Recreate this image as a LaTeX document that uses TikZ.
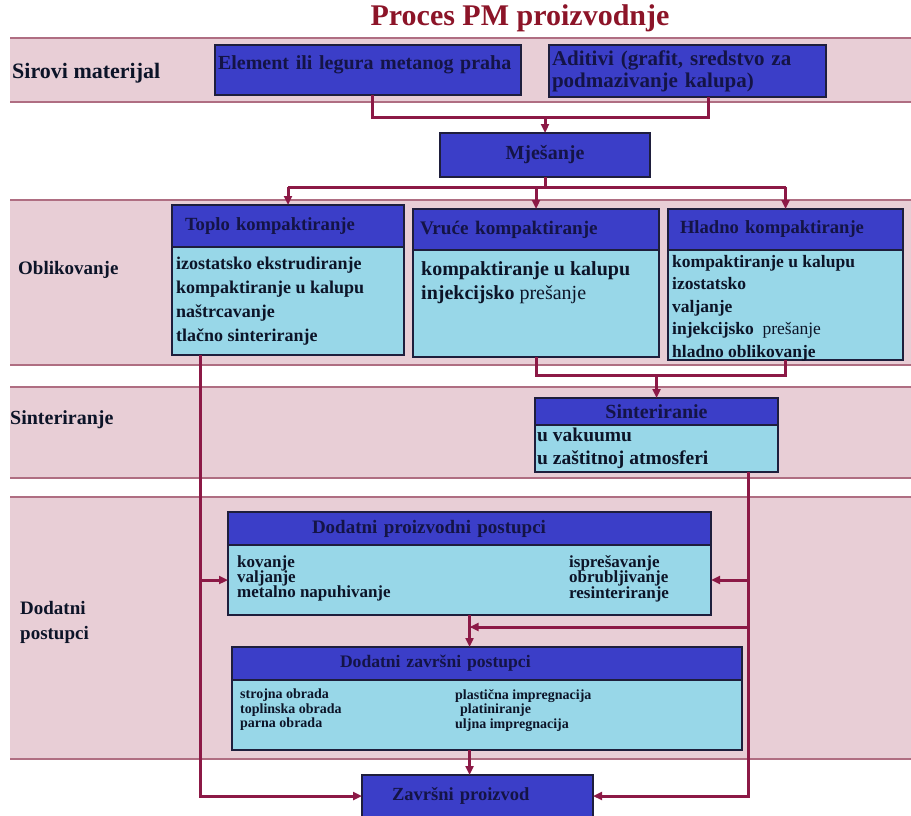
\documentclass[tikz,border=0pt]{standalone}
\usepackage{fontspec}
\setmainfont{Liberation Serif}
\usetikzlibrary{positioning,arrows.meta}

\definecolor{headblue}{RGB}{59,62,200}
\definecolor{bodycyan}{RGB}{152,215,232}
\definecolor{bandpink}{RGB}{232,206,214}
\definecolor{bandline}{RGB}{175,110,130}
\definecolor{linkred}{RGB}{140,25,70}
\definecolor{navy}{RGB}{20,20,70}
\definecolor{boxline}{RGB}{30,30,60}
\definecolor{titlered}{RGB}{140,20,40}
\definecolor{ink}{RGB}{12,20,40}

\newcommand{\pmfont}[2]{\fontsize{#1}{#2}\selectfont\bfseries}

\begin{document}
\begin{tikzpicture}[x=1pt, y=-1pt,
			block/.style={draw=boxline, line width=1.2pt, fill=headblue, text=navy, outer sep=0pt, inner ysep=2pt, anchor=north west, align=left},
			body/.style={draw=boxline, line width=1.2pt, fill=bodycyan, outer sep=0pt},
			txt/.style={anchor=north west, inner sep=0pt, align=left, text=ink},
			lbl/.style={anchor=west, inner sep=0pt, align=left, text=ink},
			lnk/.style={draw=linkred, line width=3pt},
			arr/.style={lnk, -{Triangle[length=9pt,width=8pt]}}
			]
			
			\useasboundingbox (0,0) rectangle (911,816);
			
			%==================== pozadinske trake ====================
			\foreach \t/\b in {38/102, 200/365, 387/478, 497/759} {
				\fill[bandpink] (10,\t) rectangle (911,\b);
				\draw[bandline, line width=1.8pt] (10,\t) -- (911,\t) (10,\b) -- (911,\b);
			}
			
			\node[font=\pmfont{30}{32}, text=titlered] (title) at (520,18) {Proces PM proizvodnje};
			
			\node[lbl, font=\pmfont{22}{24}] (lsirovi) at (12,73) {Sirovi materijal};
			\node[lbl, font=\pmfont{19}{22}] (lobl) at (18,270) {Oblikovanje};
			\node[lbl, font=\pmfont{20}{22}] (lsint) at (10,420) {Sinteriranje};
			\node[lbl, font=\pmfont{19}{25}] (ldod) at (20,622) {Dodatni\\postupci};
			
			%==================== sirovi materijal ====================
			\node[block, minimum width=306pt, minimum height=50pt, text width=300pt, inner xsep=3pt, text depth=14pt, font=\pmfont{20}{22}] (elem) at (215,45) {Element ili legura metanog praha};
			\node[block, minimum width=277pt, minimum height=52pt, text width=271pt, inner xsep=3pt, font=\pmfont{21}{22}] (aditivi) at (549,45) {Aditivi (grafit, sredstvo za\\podmazivanje kalupa)};
			\node[block, minimum width=210pt, minimum height=44pt, align=center, font=\pmfont{20}{22}] (mjes) at (440,133) {Mješanje};
			
			%==================== oblikovanje ====================
			\node[block, minimum width=232pt, minimum height=42pt, text width=206pt, inner xsep=13pt, font=\pmfont{18.6}{20}] (toplo) at (172,205) {Toplo kompaktiranje};
			\node[body, below=0pt of toplo, minimum width=232pt, minimum height=108pt] (toploB) {};
			\node[txt, font=\pmfont{18}{24}] (toploT) at (176,257) {izostatsko ekstrudiranje\\kompaktiranje u kalupu\\naštrcavanje\\tlačno sinteriranje};
			
			\node[block, minimum width=246pt, minimum height=41pt, text width=232pt, inner xsep=7pt, font=\pmfont{19.2}{20}] (vruce) at (413,209) {Vruće kompaktiranje};
			\node[body, below=0pt of vruce, minimum width=246pt, minimum height=107pt] (vruceB) {};
			\node[txt, font=\pmfont{20}{24}] (vruceT) at (421,261) {kompaktiranje u kalupu\\injekcijsko {\mdseries prešanje}};
			
			\node[block, minimum width=235pt, minimum height=41pt, text width=211pt, inner xsep=12pt, font=\pmfont{18.6}{20}] (hladno) at (668,209) {Hladno kompaktiranje};
			\node[body, below=0pt of hladno, minimum width=235pt, minimum height=110pt] (hladnoB) {};
			\node[txt, font=\pmfont{17.5}{22.5}] (hladnoT) at (672,255) {kompaktiranje u kalupu\\izostatsko\\valjanje\\injekcijsko\ \ {\mdseries prešanje}\\hladno oblikovanje};
			
			%==================== sinteriranje ====================
			\node[block, minimum width=243pt, minimum height=27pt, align=center, font=\pmfont{20}{22}] (sinter) at (535,398) {Sinteriranie};
			\node[body, below=0pt of sinter, minimum width=243pt, minimum height=47pt] (sinterB) {};
			\node[txt, font=\pmfont{19.5}{23}] (sinterT) at (537,428) {u vakuumu\\u zaštitnoj atmosferi};
			
			%==================== dodatni postupci ====================
			\node[block, minimum width=483pt, minimum height=33pt, text width=315pt, inner xsep=84pt, font=\pmfont{19}{20}] (dp) at (228,512) {Dodatni proizvodni postupci};
			\node[body, below=0pt of dp, minimum width=483pt, minimum height=70pt] (dpB) {};
			\node[txt, font=\pmfont{17}{15.5}] (dpL) at (237,555) {kovanje\\valjanje\\metalno napuhivanje};
			\node[txt, font=\pmfont{17}{15.5}] (dpR) at (569,555) {isprešavanje\\obrubljivanje\\resinteriranje};
			
			\node[block, minimum width=510pt, minimum height=33pt, text width=294pt, inner xsep=108pt, font=\pmfont{17.6}{20}] (dz) at (232,647) {Dodatni završni postupci};
			\node[body, below=0pt of dz, minimum width=510pt, minimum height=70pt] (dzB) {};
			\node[txt, font=\pmfont{14}{14.5}] (dzL) at (240,689) {strojna obrada\\toplinska obrada\\parna obrada};
			\node[txt, font=\pmfont{14}{14.5}] (dzR) at (455,689) {plastična impregnacija\\\hspace{5pt}platiniranje\\uljna impregnacija};
			
			\node[block, minimum width=231pt, minimum height=42pt, text width=171pt, inner xsep=30pt, font=\pmfont{18.5}{20}] (zavrs) at (362,775) {Završni proizvod};
			
			%==================== veze ====================
			\coordinate (j1) at (545,117);
			\draw[lnk] ([xshift=4pt]elem.south) |- (j1) -| ([xshift=21pt]aditivi.south);
			\draw[arr] (j1) -- (mjes.north);
			
			\coordinate (j2) at (545,187);
			\draw[lnk] (mjes.south) -- (j2);
			\draw[lnk] (toplo.north |- j2) -- (hladno.north |- j2);
			\foreach \n in {toplo, vruce, hladno}
				\draw[arr] (\n.north |- j2) -- (\n.north);
			
			\coordinate (j3) at (sinter.north |- 0,375);
			\draw[lnk] (vruceB.south) |- (j3) -| (hladnoB.south);
			\draw[arr] (j3) -- (sinter.north);
			
			\coordinate (tl) at ([xshift=28pt]toploB.south west);
			\draw[arr] (tl) |- (zavrs.west);
			\draw[arr] (tl |- dpB.west) -- (dpB.west);
			
			\coordinate (sr) at ([xshift=-30pt]sinterB.south east);
			\draw[arr] (sr) |- (zavrs.east);
			\draw[arr] (sr |- dpB.east) -- (dpB.east);
			
			\coordinate (j4) at (dpB.south |- 0,627);
			\draw[arr] (sr |- j4) -- (j4);
			\draw[arr] (dpB.south) -- (dz.north -| dpB.south);
			\draw[arr] (dzB.south -| dpB.south) -- (zavrs.north -| dpB.south);
			
		\end{tikzpicture}
\end{document}
